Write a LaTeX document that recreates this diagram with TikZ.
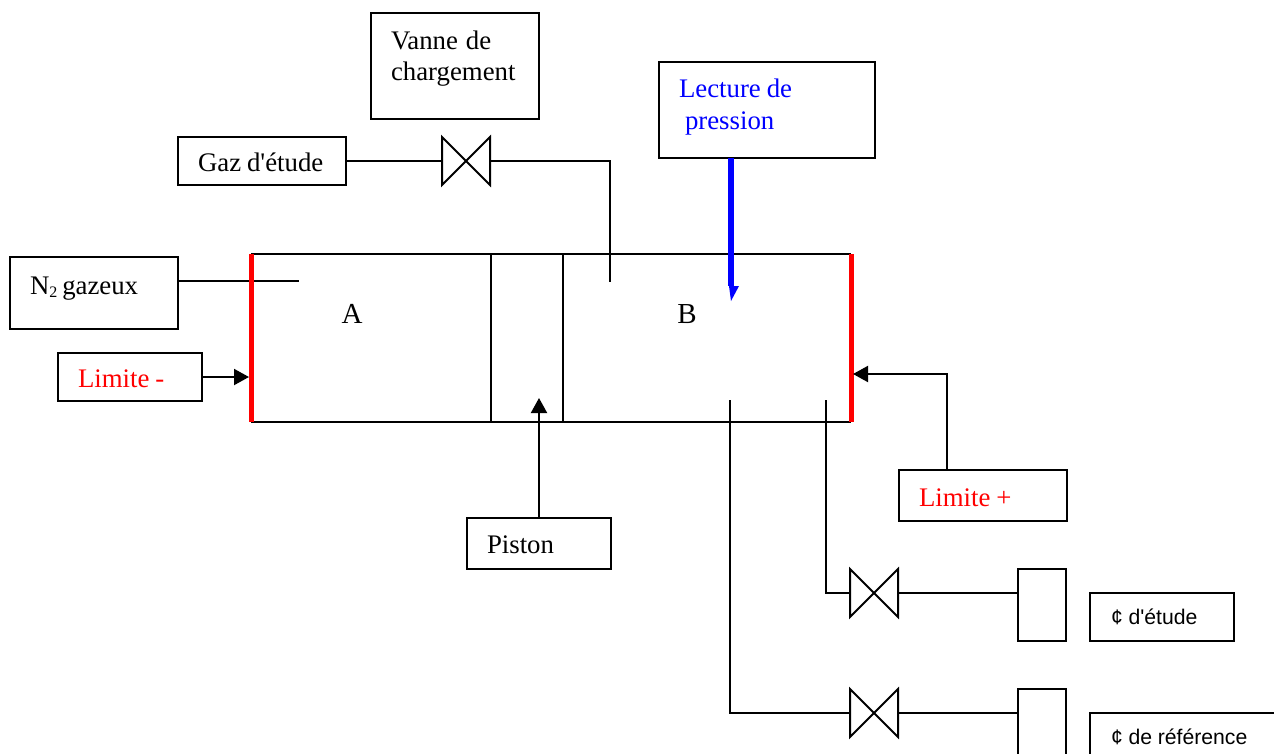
\documentclass[tikz,border=0pt]{standalone}
\usepackage{fontspec}
\setmainfont{Liberation Serif}
\newfontfamily\sansf{Liberation Sans}
\usetikzlibrary{arrows.meta}
\newcommand{\bx}[8][]{% opts, name, x1, y1, x2, y2, xoff, text
  \pgfmathsetmacro{\bw}{#5-#3}\pgfmathsetmacro{\bh}{#6-#4}\pgfmathsetmacro{\tw}{\bw-2*#7}
  \node[boxn,inner xsep=#7pt,text width=\tw pt,minimum height=\bh pt,#1] (#2) at ({(#3+#5)/2},{(#4+#6)/2}) {\spaceskip=0.22em\relax #8};}
\newcommand{\valvedraw}[3]{%
  \node[valven] (#1) at (#2,#3) {};
  \draw[ln] (#1.north west)--(#1.south east)--(#1.north east)--(#1.south west)--cycle;}
\tikzset{
  ln/.style={draw=black,line width=2pt},
  boxn/.style={draw=black,line width=2pt,rectangle,outer sep=0pt,inner ysep=0pt,align=left,font=\fontsize{26.8}{31.5}\selectfont},
  valven/.style={rectangle,minimum size=48pt,inner sep=0pt,outer sep=0pt},
  sansbox/.style={font=\fontsize{21.2}{24}\sansf},
  tip/.style={-{Triangle[length=15pt,width=16pt]}},
  redw/.style={draw=red,line width=5pt},
  lbl/.style={font=\fontsize{29}{34}\selectfont,inner sep=0pt}
}
\begin{document}
\begin{tikzpicture}[x=1pt,y=-1pt]
\useasboundingbox (0,0) rectangle (1274,753);
\clip (0,0) rectangle (1274,753);
% boxes
\bx[text depth=52pt]{vanne}{371}{13}{539}{119}{20}{Vanne\hspace{2pt} de\\chargement}
\bx[text depth=2pt,text height=22pt]{gaz}{178}{137}{346}{185}{20}{Gaz d\textquotesingle étude}
\bx[text depth=43pt,text=blue]{lecture}{659}{62}{875}{158}{20}{Lecture de\\\hspace*{6pt}pression}
\bx[text depth=15pt]{azote}{10}{257}{178}{329}{20}{N\raisebox{-3pt}{\fontsize{16}{16}\selectfont 2}\hspace{-1pt} gazeux}
\bx[text=red,text depth=2pt,text height=22pt]{limm}{58}{353}{202}{401}{20}{Limite -}
\bx[text=red,text depth=2pt,text height=23pt]{limp}{899}{470}{1067}{521}{20}{Limite +}
\bx[text depth=2pt,text height=21pt]{piston}{467}{518}{611}{569}{20}{Piston}
\bx[sansbox]{cetude}{1090}{593}{1234}{641}{21}{\spaceskip=0.27em\relax ¢ d\textquotesingle étude}
\bx[sansbox]{cref}{1090}{713}{1290}{761}{21}{\spaceskip=0.27em\relax ¢ de référence}
\node[boxn,minimum width=48pt,minimum height=72pt] (t1) at (1042,605) {};
\node[boxn,minimum width=48pt,minimum height=72pt] (t2) at (1042,725) {};
% valves
\valvedraw{v0}{466}{161}
\valvedraw{v1}{874}{593}
\valvedraw{v2}{874}{713}
% cylinder
\coordinate (cnw) at (251,254); \coordinate (cne) at (851,254);
\coordinate (csw) at (251,422); \coordinate (cse) at (851,422);
\coordinate (p1t) at (491,254); \coordinate (p1b) at (491,422);
\coordinate (p2t) at (563,254); \coordinate (p2b) at (563,422);
\draw[ln] (cnw)--(cne) (csw)--(cse) (p1t)--(p1b) (p2t)--(p2b);
\node[lbl] (A) at (352,314) {A};
\node[lbl] (B) at (687,314) {B};
% pipes
\coordinate (e0) at (610,282);
\coordinate (e1) at (826,400);
\coordinate (e2) at (730,400);
\coordinate (e3) at (299,281);
\draw[ln] (gaz.east)--(v0.west);
\draw[ln] (v0.east)-|(e0);
\draw[ln] (v1.west)-|(e1);
\draw[ln] (v2.west)-|(e2);
\draw[ln] (v1.east)--(t1.west|-v1.east);
\draw[ln] (v2.east)--(t2.west|-v2.east);
\draw[ln] (azote.east|-e3)--(e3);
% red limits
\draw[redw] (cnw)--(csw);
\draw[redw] (cne)--(cse);
% arrows
\coordinate (al) at (249,377);
\coordinate (ar) at (853,374);
\coordinate (ap) at (539,398);
\draw[ln,tip] (limm.east)--(al);
\draw[ln,tip] (limp.north-|947,0)|-(ar);
\draw[ln,tip] (piston.north)--(ap);
% pressure reading
\coordinate (bl) at (731,286);
\draw[draw=blue,line width=5.2pt] (lecture.south-|bl)--(bl);
\fill[blue] (729,286)--(739,286)--(731,301)--cycle;
\end{tikzpicture}
\end{document}
